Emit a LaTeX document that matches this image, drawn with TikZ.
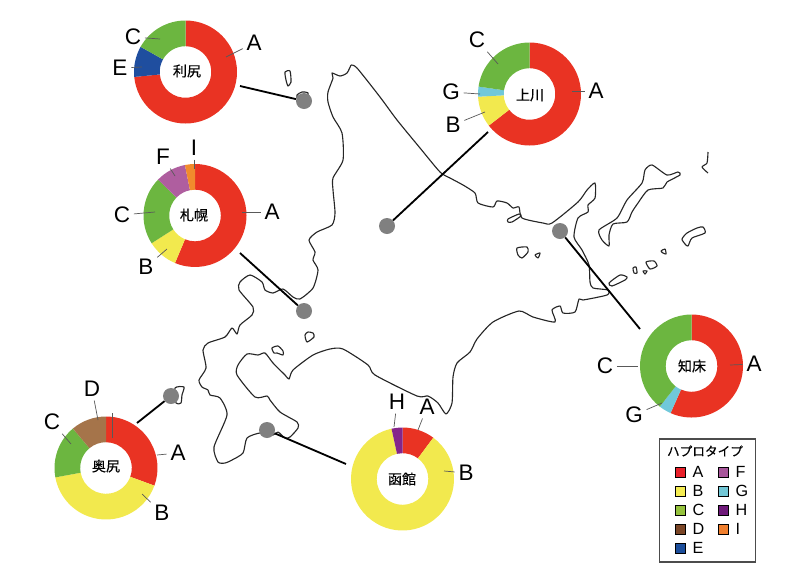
\documentclass[tikz,border=0pt]{standalone}
\usepackage{fontspec}
\setmainfont{Liberation Sans}
\newfontfamily\cjk[FakeBold=0.3]{Noto Sans CJK JP}
\usetikzlibrary{positioning}

% sectors of the rings
\definecolor{pieA}{HTML}{E93323}
\definecolor{pieB}{HTML}{F2E94E}
\definecolor{pieC}{HTML}{6CB640}
\definecolor{pieD}{HTML}{A5744A}
\definecolor{pieE}{HTML}{1F4E9F}
\definecolor{pieF}{HTML}{AF5E9F}
\definecolor{pieG}{HTML}{70C8DA}
\definecolor{pieH}{HTML}{84258B}
\definecolor{pieI}{HTML}{F18B2D}
% legend squares
\definecolor{keyA}{HTML}{E8202A}
\definecolor{keyB}{HTML}{F4EC52}
\definecolor{keyC}{HTML}{95C23D}
\definecolor{keyD}{HTML}{7A4526}
\definecolor{keyE}{HTML}{1C4E9B}
\definecolor{keyF}{HTML}{A8569B}
\definecolor{keyG}{HTML}{72C7D6}
\definecolor{keyH}{HTML}{6F1A7A}
\definecolor{keyI}{HTML}{F07F2E}

\tikzset{
  coast/.style={draw=black!85, line width=0.8pt, line join=round},
  link/.style={draw=black, line width=1.3pt},
  site/.style={circle, fill=black!50, minimum size=0.4cm, inner sep=0pt},
  placename/.style={inner sep=0pt, font=\cjk\fontsize{10}{10}\selectfont},
  hap/.style={inner sep=2.5pt, font=\fontsize{16}{16}\selectfont},
  leader/.style={draw=black!65, line width=0.5pt},
  keybox/.style={draw=black, line width=0.5pt, minimum size=0.25cm, inner sep=0pt},
  keytext/.style={inner sep=0pt, font=\fontsize{11.5}{11.5}\selectfont}
}

\begin{document}
\begin{tikzpicture}[x=0.025cm, y=-0.025cm]
  \useasboundingbox (0, 0) rectangle (800, 579);

  % main island
  \draw[coast] plot[smooth, tension=0.4] coordinates {
    (351,65) (347,73) (340,76) (332,73) (333,78) (328,92) (328,102) (333,117)
    (342,133) (343,160) (333,178) (333,190) (335,213) (332,225) (317,232)
    (309,240) (315,252) (313,260) (318,270) (313,288) (300,299) (293,297)
    (283,289) (273,293) (265,290) (262,282) (250,275) (240,282) (239,290)
    (253,307) (252,315) (240,325) (237,334) (232,328) (225,337) (208,343)
    (203,350) (206,368) (199,380) (202,387) (208,390) (210,395) (220,398)
    (227,415) (214,447) (218,462) (225,463) (232,460) (243,453) (247,438)
    (260,433) (273,435) (278,432) (285,438) (290,437) (298,428) (297,422)
    (280,412) (270,400) (267,396) (255,397) (237,375) (238,365) (247,354)
    (258,355) (265,353) (273,363) (285,375) (289,379) (293,370) (313,355)
    (330,349) (343,349) (368,365) (375,375) (417,396) (428,396) (438,403)
    (446,414) (452,403) (453,377) (457,363) (470,352) (477,339) (493,322)
    (519,311) (533,317) (555,322) (552,310) (560,306) (563,313) (575,312)
    (579,299) (583,300) (607,295) (608,290) (593,288) (590,282) (589,265)
    (582,250) (574,237) (578,218) (588,212) (588,205) (595,198) (595,183)
    (587,190) (578,202) (552,223) (543,223) (522,218) (519,207) (513,208)
    (507,203) (497,201) (493,207) (478,203) (475,193) (463,185) (450,178)
    (440,172) (420,148) (397,120) (380,97) (357,68) (351,65)
  };

  % islands
  \draw[coast] plot[smooth cycle, tension=0.4] coordinates {(285,72) (290,71) (291,82) (288,86) (286,80)};
  \draw[coast] plot[smooth cycle, tension=0.4] coordinates {(297,95) (302,92) (308,93) (306,100) (298,100)};
  \draw[coast] plot[smooth cycle, tension=0.4] coordinates {(175,388) (184,387) (182,395) (181,403) (176,403)};
  \draw[coast] plot[smooth cycle, tension=0.4] coordinates {(305,335) (308,332) (313,333) (314,337) (307,342)};
  \draw[coast] plot[smooth cycle, tension=0.4] coordinates {(272,348) (278,346) (283,351) (283,355) (277,353) (274,353)};
  \draw[coast] plot[smooth cycle, tension=0.4] coordinates {(517,248) (527,247) (528,252) (522,258) (518,255)};
  \draw[coast] plot[smooth cycle, tension=0.4] coordinates {(535,255) (540,253) (538,258)};
  \draw[coast] plot[smooth cycle, tension=0.4] coordinates {(508,219) (519,214) (521,216) (512,222) (508,222)};
  \draw[coast] plot[smooth cycle, tension=0.4] coordinates {(609,246) (602,240) (599,230) (617,218) (627,200) (642,183) (645,170)
     (652,165) (667,175) (678,172) (680,175) (667,182) (663,188) (648,190)
     (638,203) (632,212) (627,222) (613,224) (609,235)};
  \draw[coast] plot[smooth cycle, tension=0.4] coordinates {(682,239) (687,233) (697,228) (703,227) (705,233) (692,238) (688,246) (685,244)};
  \draw[coast] plot[smooth cycle, tension=0.4] coordinates {(609,283) (620,275) (627,277) (625,280) (612,286)};
  \draw[coast] plot[smooth cycle, tension=0.4] coordinates {(633,268) (636,267) (637,273) (634,273)};
  \draw[coast] plot[smooth cycle, tension=0.4] coordinates {(643,271) (647,271) (645,274)};
  \draw[coast] plot[smooth cycle, tension=0.4] coordinates {(646,262) (654,261) (657,266) (650,269)};
  \draw[coast] plot[smooth cycle, tension=0.4] coordinates {(661,251) (665,249) (666,254) (663,253)};
  \draw[coast] plot[smooth, tension=0.4] coordinates {(708,152) (707,163) (702,167) (708,173)};

  % sites and their lines
  \foreach \n/\dx/\dy/\ex/\ey in {
    rishiri/304/101/240/86, kamikawa/387/226/488/132, sapporo/304/311/240/253,
    shiretoko/560/231/640/329, hakodate/267/430/346/464, okushiri/171/396/137/423%
  } {
    \coordinate (\n end) at (\ex, \ey);
    \node[site] (\n site) at (\dx, \dy) {};
    \draw[link] (\n end) -- (\n site);
  }

  % rings
  \foreach \cx/\cy/\slices in {
    185.5/72/{0/264.5/pieA, 264.5/299.3/pieE, 299.3/360/pieC},
    195/215.5/{0/202.8/pieA, 202.8/237.4/pieB, 237.4/314.2/pieC, 314.2/348.7/pieF, 348.7/360/pieI},
    529.5/94/{0/232.2/pieA, 232.2/267/pieB, 267/278.3/pieG, 278.3/360/pieC},
    691.5/366/{0/204/pieA, 204/218/pieG, 218/360/pieC},
    402.5/479/{0/36.7/pieA, 36.7/347.7/pieB, 347.7/360/pieH},
    106/468/{0/110/pieA, 110/259.5/pieB, 259.5/320/pieC, 320/360/pieD}%
  } {
    \begin{scope}[shift={(\cx, \cy)}]
      \foreach \a/\b/\c in \slices {
        \fill[\c] (\a-90:51.5) arc[start angle=\a-90, end angle=\b-90, radius=51.5]
          -- (\b-90:25.8) arc[start angle=\b-90, end angle=\a-90, radius=25.8] -- cycle;
      }
    \end{scope}
  }

  \node[placename] (rishiri) at (187, 71) {利尻};
  \node[placename] (sapporo) at (194, 215) {札幌};
  \node[placename] (kamikawa) at (530, 95) {上川};
  \node[placename] (shiretoko) at (692, 366) {知床};
  \node[placename] (hakodate) at (402, 479) {函館};
  \node[placename] (okushiri) at (106, 466) {奥尻};

  % haplotype letters
  \foreach \n/\t/\x/\y/\ex/\ey in {
    riA/A/254/43/226/57, riC/C/133/37/160/39, riE/E/120/68/142/67,
    saA/A/272/212/242/212, saI/I/194/148/194/169, saF/F/163/157/175/176,
    saC/C/122/215/155/212, saB/B/146/267/167/249,
    kaA/A/596/91/572/91, kaC/C/477/40/498/64, kaG/G/451/92/480/94, kaB/B/453/125/485/112,
    shA/A/754/364/730/365, shC/C/605/366/638/366, shG/G/634/415/662/403,
    haA/A/427/407/418/430, haH/H/397/402/394/427, haB/B/466/473/444/471,
    okA/A/178/453/157/455, okB/B/162/513/142/494, okC/C/52/422/71/444, okD/D/92/389/98/420%
  } {
    \node[hap] (\n) at (\x, \y) {\t};
    \coordinate (\n end) at (\ex, \ey);
    \draw[leader] (\n) -- (\n end);
  }
  \coordinate (okTop) at (112, 413);
  \coordinate (okLow) at (112, 438);
  \draw[leader] (okTop) -- (okLow);

  % legend
  \node[draw=black!70, line width=0.8pt, minimum width=2.4cm, minimum height=3.075cm, inner sep=0pt] (legend) at (707.3, 500.5) {};
  \node[inner sep=0pt, font=\cjk\fontsize{9}{9}\selectfont] (legendtitle) at (705, 451) {ハプロタイプ};
  \foreach \t/\x/\y in {A/680/472, B/680/491, C/680/510, D/680/529, E/680/548,
    F/723/472, G/723/491, H/723/510, I/723/529} {
    \node[keybox, fill=key\t] (key\t) at (\x, \y) {};
    \node[keytext, right=5pt of key\t] (keyname\t) {\t};
  }
\end{tikzpicture}
\end{document}
